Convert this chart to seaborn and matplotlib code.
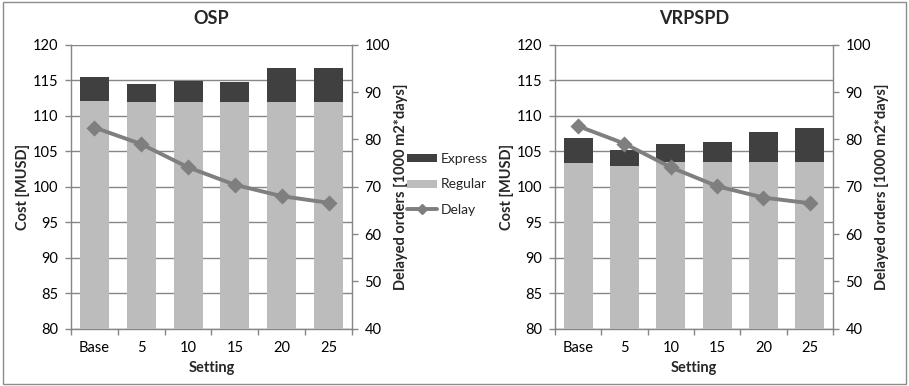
import matplotlib
matplotlib.use("Agg")
import matplotlib.pyplot as plt
from matplotlib.patches import Patch, Rectangle
from matplotlib.lines import Line2D
import numpy as np
import pandas as pd
import seaborn as sns

settings = ["Base", "5", "10", "15", "20", "25"]

osp_regular = [112.1, 111.9, 112.0, 111.9, 111.9, 111.9]
osp_total = [115.5, 114.45, 114.95, 114.8, 116.65, 116.7]
osp_delay = [82.5, 79.0, 74.1, 70.4, 68.0, 66.6]

vrp_regular = [103.4, 102.85, 103.45, 103.45, 103.45, 103.45]
vrp_total = [106.8, 105.2, 106.0, 106.3, 107.75, 108.25]
vrp_delay = [82.8, 79.1, 74.1, 70.1, 67.7, 66.5]

EXPRESS = "#404040"
REGULAR = "#bcbcbc"
DELAY = "#7f7f7f"
AXIS = "#868686"
TEXT = "#000000"

sns.set_theme(style="white")
plt.rcParams["font.family"] = ["Lato", "DejaVu Sans"]
plt.rcParams["font.size"] = 10

fig = plt.figure(figsize=(9.09, 3.86), dpi=100)

# outer frame around the whole figure
fig.add_artist(Rectangle((3 / 909, 2 / 386), 903 / 909, 382 / 386,
                         transform=fig.transFigure, fill=False,
                         edgecolor="#8c8c8c", linewidth=1.0))


def panel(rect, title, regular, total, delay):
    ax = fig.add_axes(rect)
    df = pd.DataFrame({"Setting": settings, "Regular": regular,
                       "Total": total, "Delay": delay})
    sns.barplot(data=df, x="Setting", y="Total", color=EXPRESS,
                width=0.62, saturation=1, ax=ax, zorder=2, linewidth=0)
    sns.barplot(data=df, x="Setting", y="Regular", color=REGULAR,
                width=0.62, saturation=1, ax=ax, zorder=3, linewidth=0)
    ax.set_ylim(80, 120)
    ax.set_xlim(-0.5, 5.5)
    ax.set_yticks(np.arange(80, 121, 5))
    ax.yaxis.grid(True, color=AXIS, linewidth=1.0, zorder=0)
    ax.set_axisbelow(True)
    for s in ["left", "bottom"]:
        ax.spines[s].set_color(AXIS)
        ax.spines[s].set_linewidth(1.0)
    ax.spines["top"].set_visible(False)
    ax.spines["right"].set_visible(False)
    ax.tick_params(axis="y", length=4, width=1, color=AXIS, direction="out",
                   labelsize=10.5, pad=5, labelcolor=TEXT, left=True)
    ax.set_xticks(range(len(settings)))
    ax.set_xticklabels(settings)
    ax.set_xticks(np.arange(-0.5, len(settings)), minor=True)
    ax.tick_params(axis="x", which="major", length=0, labelsize=10.5, pad=9,
                   labelcolor=TEXT)
    ax.tick_params(axis="x", which="minor", length=4, width=1, color=AXIS,
                   direction="out", bottom=True)
    ax.set_xlabel("Setting", fontsize=10.5, fontweight="bold", labelpad=4)
    ax.set_ylabel("Cost [MUSD]", fontsize=10.5, fontweight="bold", labelpad=2)
    ax.set_title(title, fontsize=13, fontweight="bold", pad=15)

    ax2 = ax.twinx()
    sns.pointplot(data=df, x="Setting", y="Delay", color=DELAY, markers="D",
                  linestyles="-", ax=ax2, markersize=6, linewidth=2.8,
                  zorder=5)
    ax2.set_xlim(-0.5, 5.5)
    ax2.set_ylim(40, 100)
    ax2.set_yticks(np.arange(40, 101, 10))
    for s in ["left", "top", "bottom"]:
        ax2.spines[s].set_visible(False)
    ax2.spines["right"].set_color(AXIS)
    ax2.spines["right"].set_linewidth(1.0)
    ax2.tick_params(axis="y", length=4, width=1, color=AXIS, direction="out",
                    labelsize=10.5, pad=5, right=True, labelcolor=TEXT)
    ax2.set_ylabel("Delayed orders [1000 m2*days]", fontsize=10.5,
                   fontweight="bold", labelpad=3)
    ax2.grid(False)
    return ax, ax2


panel([71 / 909, 1 - 328.7 / 386, 281 / 909, 284 / 386], "OSP",
      osp_regular, osp_total, osp_delay)
panel([555 / 909, 1 - 328.7 / 386, 278 / 909, 284 / 386], "VRPSPD",
      vrp_regular, vrp_total, vrp_delay)

handles = [
    Patch(facecolor=EXPRESS, edgecolor="none", label="Express"),
    Patch(facecolor=REGULAR, edgecolor="none", label="Regular"),
    Line2D([0], [0], color=DELAY, linewidth=2.8, marker="D", markersize=5,
           label="Delay"),
]
fig.legend(handles=handles, loc="center left",
           bbox_to_anchor=(407 / 909, 1 - 184.5 / 386), frameon=False,
           fontsize=10, handlelength=2.15, handleheight=0.5,
           labelspacing=0.95, handletextpad=0.25, borderaxespad=0,
           borderpad=0)

fig.savefig("out.png", dpi=100)
